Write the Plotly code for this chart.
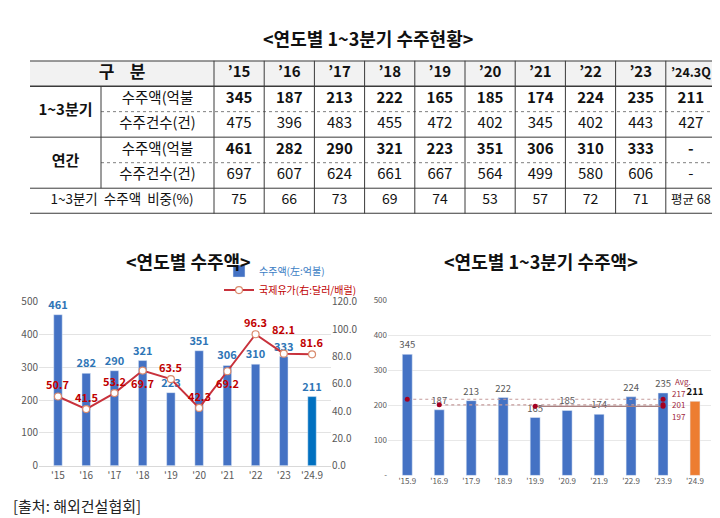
import plotly.graph_objects as go

W, H = 720, 518
FONT = "Noto Sans CJK KR"

# ---- table data ----
table_years = ["’15", "’16", "’17", "’18", "’19", "’20", "’21", "’22", "’23", "’24.3Q"]
q3_amount = [345, 187, 213, 222, 165, 185, 174, 224, 235, 211]
q3_count = [475, 396, 483, 455, 472, 402, 345, 402, 443, 427]
annual_amount = [461, 282, 290, 321, 223, 351, 306, 310, 333, None]
annual_count = [697, 607, 624, 661, 667, 564, 499, 580, 606, None]
q3_share = [75, 66, 73, 69, 74, 53, 57, 72, 71]
q3_share_avg = 68

# ---- left chart: annual orders + oil price ----
annual_cats = ["'15", "'16", "'17", "'18", "'19", "'20", "'21", "'22", "'23", "'24.9"]
annual_bars = [461, 282, 290, 321, 223, 351, 306, 310, 333, 211]
oil_price = [50.7, 41.5, 53.2, 69.7, 63.5, 42.3, 69.2, 96.3, 82.1, 81.6]

# ---- right chart: 1~3Q orders ----
q3_cats = ["'15.9", "'16.9", "'17.9", "'18.9", "'19.9", "'20.9", "'21.9", "'22.9", "'23.9", "'24.9"]
avg_values = [217, 201, 197]
avg_from = ["'15.9", "'16.9", "'19.9"]
avg_to = "'23.9"


def px(p):
    return p / W


def py(p):
    return 1 - p / H


def fmt(v):
    return "-" if v is None else str(v)


fig = go.Figure()

# ------------------------
#   TABLE (drawn on a hidden axis pair)
# ------------------------
col_w = [71, 113] + [50.2] * 10
edges = [0]
for w in col_w:
    edges.append(edges[-1] + w)
centers = [(edges[i] + edges[i + 1]) / 2 for i in range(len(col_w))]
year_x = centers[2:]
tw = edges[-1]

# header background
fig.add_shape(type="rect", xref="x", yref="y", x0=0, x1=tw, y0=0, y1=1,
              fillcolor="#f2f2f2", line=dict(width=0), layer="below")

# horizontal lines
hl = [(0, 0, 2, "solid", "#3a3a3a"), (1, 0, 1.5, "solid", "#3a3a3a"),
      (2, edges[1], 1, "dot", "#7f7f7f"), (3, 0, 1, "solid", "#3a3a3a"),
      (4, edges[1], 1, "dot", "#7f7f7f"), (5, 0, 1, "solid", "#3a3a3a"),
      (6, 0, 2, "solid", "#3a3a3a")]
for yy, x0, lw, dash, col in hl:
    fig.add_shape(type="line", xref="x", yref="y", x0=x0, x1=tw, y0=yy, y1=yy,
                  line=dict(width=lw, dash=dash, color=col))

# vertical lines
fig.add_shape(type="line", xref="x", yref="y", x0=edges[1], x1=edges[1], y0=1, y1=5,
              line=dict(width=1, color="#3a3a3a"))
for e in edges[2:-1]:
    fig.add_shape(type="line", xref="x", yref="y", x0=e, x1=e, y0=0, y1=6,
                  line=dict(width=1, color="#3a3a3a"))


def table_text(xs, ys, texts, size=14, weight="normal"):
    fig.add_trace(go.Scatter(
        x=xs, y=ys, text=texts, mode="text", xaxis="x", yaxis="y",
        textfont=dict(family=FONT, size=size, color="#111111", weight=weight),
        hoverinfo="skip", showlegend=False))


n = len(table_years)
table_text([(edges[0] + edges[2]) / 2], [0.5], ["구    분"], size=17, weight="bold")
table_text(year_x[:-1], [0.5] * (n - 1), table_years[:-1], size=15, weight="bold")
table_text(year_x[-1:], [0.5], table_years[-1:], size=12.5, weight="bold")
table_text([centers[0]], [2.0], ["1~3분기"], size=15, weight="bold")
table_text([centers[0]], [4.0], ["연간"], size=15, weight="bold")
table_text([centers[1]] * 4, [1.5, 2.5, 3.5, 4.5],
           ["수주액(억불", "수주건수(건)", "수주액(억불", "수주건수(건)"], size=14.5)
table_text(year_x, [1.5] * n, [fmt(v) for v in q3_amount], size=15, weight="bold")
table_text(year_x, [2.5] * n, [fmt(v) for v in q3_count], size=15)
table_text(year_x, [3.5] * n, [fmt(v) for v in annual_amount], size=15, weight="bold")
table_text(year_x, [4.5] * n, [fmt(v) for v in annual_count], size=15)
table_text([(edges[0] + edges[2]) / 2], [5.5], ["1~3분기  수주액  비중(%)"], size=13.5)
table_text(year_x[:-1], [5.5] * (n - 1), [fmt(v) for v in q3_share], size=14)
table_text(year_x[-1:], [5.5], [f"평균 {q3_share_avg}"], size=12.5)

# ------------------------
#   LEFT CHART
# ------------------------
fig.add_trace(go.Bar(
    x=annual_cats, y=annual_bars,
    name="<span style='color:#3b7dc4'>수주액(左:억불)</span>",
    xaxis="x2", yaxis="y2", width=0.3,
    marker=dict(color=["#4472c4"] * (len(annual_bars) - 1) + ["#0070c0"]),
    text=annual_bars, texttemplate="%{text}", textposition="outside", cliponaxis=False,
    constraintext="none",
    textfont=dict(family=FONT, size=11, color="#2e75b6", weight="bold")))

fig.add_trace(go.Scatter(
    x=annual_cats, y=oil_price,
    name="<span style='color:#c00000'>국제유가(右:달러/배럴)</span>",
    xaxis="x2", yaxis="y3", mode="lines+markers",
    line=dict(color="#c8323c", width=2),
    marker=dict(size=7, color="white", line=dict(color="#d98a6c", width=1.2)),
    cliponaxis=False))

# oil labels: mostly above the marker, a few below (as in the source chart)
oil_shift = [12, 12, 12, -12, 12, 12, -12, 12, 25, 12]
for c, v, s in zip(annual_cats, oil_price, oil_shift):
    fig.add_annotation(x=c, y=v, xref="x2", yref="y3", text=f"<b>{v:.1f}</b>",
                       showarrow=False, yshift=s,
                       font=dict(family=FONT, size=11, color="#c00000"))

# ------------------------
#   RIGHT CHART
# ------------------------
fig.add_trace(go.Bar(
    x=q3_cats, y=q3_amount, xaxis="x4", yaxis="y4", width=0.31,
    marker=dict(color=["#4472c4"] * (len(q3_amount) - 1) + ["#ed7d31"]),
    text=[str(v) for v in q3_amount[:-1]] + [f"<b>{q3_amount[-1]}</b>"],
    texttemplate="%{text}", textposition="outside", cliponaxis=False,
    constraintext="none",
    textfont=dict(family=FONT, size=9.5,
                  color=["#595959"] * (len(q3_amount) - 1) + ["#111111"]),
    showlegend=False, hoverinfo="skip"))

avg_styles = [("dot", "#c59a9a"), ("dot", "#c59a9a"), ("solid", "#a88080")]
for v, start, (dash, col) in zip(avg_values, avg_from, avg_styles):
    fig.add_trace(go.Scatter(
        x=[start, avg_to], y=[v, v], xaxis="x4", yaxis="y4", mode="lines+markers",
        line=dict(color=col, width=1.2, dash=dash),
        marker=dict(size=5, color="#a50021"),
        showlegend=False, hoverinfo="skip"))

for v, ys in zip(avg_values, [6, 0, -10]):
    fig.add_annotation(x=avg_to, y=v, xref="x4", yref="y4", text=str(v),
                       showarrow=False, xanchor="left", xshift=7, yshift=ys,
                       font=dict(family=FONT, size=8, color="#a0283c"))
fig.add_annotation(x=avg_to, y=avg_values[0], xref="x4", yref="y4", text="Avg.",
                   showarrow=False, xanchor="left", xshift=10, yshift=18,
                   font=dict(family=FONT, size=8, color="#a0283c"))

# ------------------------
#   TITLES / SOURCE
# ------------------------
titles = [("<연도별 1~3분기 수주현황>", 360, 22), ("<연도별 수주액>", 180, 252),
          ("<연도별 1~3분기 수주액>", 533, 252)]
for t, x, y in titles:
    fig.add_annotation(x=px(x), y=py(y), xref="paper", yref="paper", text=f"<b>{t}</b>",
                       showarrow=False, xanchor="center", yanchor="middle",
                       font=dict(family=FONT, size=18, color="#111111"))

fig.add_annotation(x=px(3), y=py(504), xref="paper", yref="paper", text="[출처: 해외건설협회]",
                   showarrow=False, xanchor="left", yanchor="middle",
                   font=dict(family=FONT, size=15, color="#222222"))

tick_font = dict(family=FONT, size=10, color="#595959")
small_tick = dict(family=FONT, size=8, color="#595959")

fig.update_layout(
    width=W, height=H, autosize=False,
    margin=dict(l=0, r=0, t=0, b=0),
    paper_bgcolor="white", plot_bgcolor="white",
    font=dict(family=FONT),
    xaxis=dict(domain=[px(22), px(708)], range=[0, tw], visible=False, fixedrange=True),
    yaxis=dict(domain=[py(203), py(45)], range=[6, 0], visible=False, fixedrange=True),
    xaxis2=dict(domain=[px(31), px(323)], anchor="y2", tickfont=tick_font,
                showline=True, linecolor="#d9d9d9", ticks=""),
    yaxis2=dict(domain=[py(463), py(294)], anchor="x2", range=[0, 500], dtick=100,
                tickfont=tick_font, showgrid=True, gridcolor="#e3e3e3", zeroline=False),
    yaxis3=dict(overlaying="y2", anchor="x2", side="right", range=[0, 120], dtick=20,
                tickformat=".1f", tickfont=tick_font, showgrid=False, zeroline=False),
    xaxis4=dict(domain=[px(380), px(703)], anchor="y4", tickfont=small_tick,
                showline=False, ticks=""),
    yaxis4=dict(domain=[py(473), py(292)], anchor="x4", range=[0, 500],
                tickvals=[0, 100, 200, 300, 400, 500],
                ticktext=["-", "100", "200", "300", "400", "500"],
                tickfont=small_tick, showgrid=True, gridcolor="#e8e8e8", zeroline=False),
    legend=dict(x=px(211), y=py(272), xanchor="left", yanchor="middle",
                bgcolor="rgba(0,0,0,0)", itemwidth=30, tracegroupgap=0,
                traceorder="normal",
                font=dict(family=FONT, size=10, color="#595959")),
)

fig.write_html("out.html")
